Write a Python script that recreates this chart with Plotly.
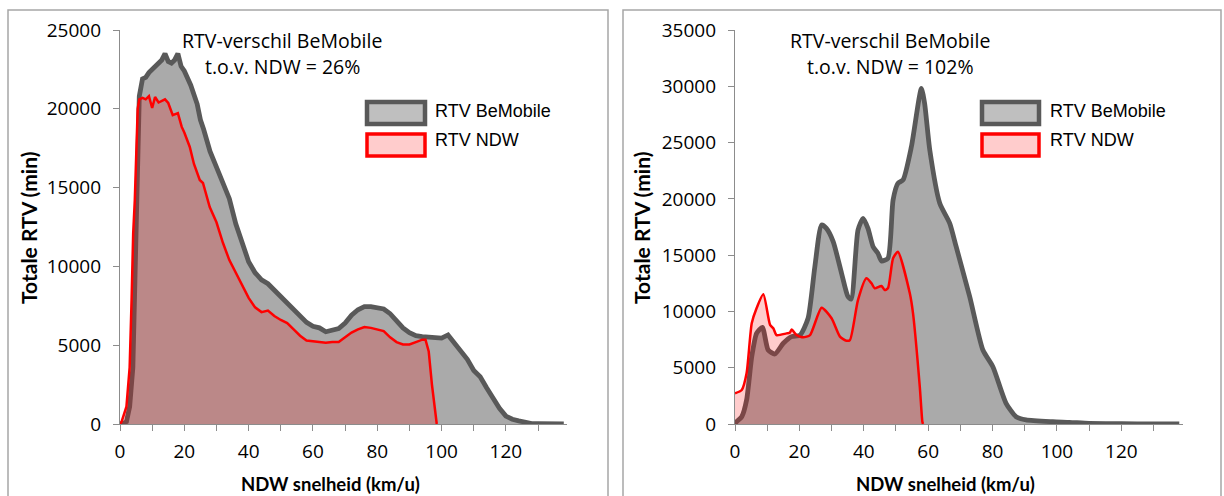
import plotly.graph_objects as go

W, H = 1224, 496

# ---------------- data: left panel ----------------
left_bm_speed = [0, 1, 2, 3, 4, 5, 6, 7, 8, 9, 10, 11, 12, 13, 14, 15, 16, 17, 18, 19, 20,
                 22, 24, 25, 26, 28, 30, 32, 34, 36, 38, 40, 42, 44, 46, 48, 50, 52, 54, 56,
                 58, 60, 62, 64, 66, 68, 70, 72, 74, 76, 78, 80, 82, 84, 86, 88, 90, 92, 94,
                 96, 98, 100, 102, 104, 106, 108, 110, 112, 114, 116, 118, 120, 122, 124,
                 126, 128, 130, 134, 136, 138]
left_bm_rtv = [0, 30, 150, 1100, 3600, 12500, 20800, 21900, 22000, 22300, 22500, 22700,
               23000, 23100, 23500, 23000, 22900, 23100, 23500, 22700, 22400,
               21500, 20300, 19300, 18700, 17300, 16300, 15200, 14300, 12700, 11500, 10300,
               9600, 9150, 8900, 8500, 8050, 7650, 7250, 6800, 6450, 6200, 6100, 5850, 5950,
               6050, 6400, 6900, 7250, 7450, 7450, 7400, 7300, 7000, 6500, 6100, 5800, 5600,
               5550, 5500, 5450, 5450, 5650, 5100, 4600, 4100, 3400, 3000, 2300, 1600, 1000,
               500, 300, 200, 80, 30, 20, 20, 40, 0]

left_ndw_speed = [0, 0.5, 2, 3, 3.6, 4.1, 4.6, 5.5, 6, 7, 8, 9, 10, 10.9, 12, 13, 14, 15,
                  16.4, 18, 19.2, 20, 21.7, 23, 24.8, 25.8, 27.9, 30, 32, 34, 36, 38, 40,
                  42, 44, 46, 48, 50, 52, 54, 56, 58, 60, 62, 64, 66, 68, 70, 72, 74, 76,
                  78, 80, 82, 84, 86, 88, 90, 92, 94, 95, 96, 97, 98, 98.5]
left_ndw_rtv = [0, 150, 1100, 3600, 7870, 12100, 14200, 20000, 20600, 20700, 20600, 20800,
                20050, 20750, 20400, 20500, 20600, 20370, 19600, 19730, 18850, 18500,
                17580, 16500, 15480, 15290, 13770, 12800, 11500, 10400, 9600, 8800, 8000,
                7400, 7100, 7200, 6850, 6600, 6400, 6000, 5600, 5300, 5250, 5200, 5150,
                5200, 5200, 5500, 5800, 6000, 6150, 6100, 6000, 5900, 5500, 5200, 5050,
                5050, 5200, 5350, 5350, 4600, 2500, 600, 0]

# ---------------- data: right panel ----------------
right_bm_speed = [0, 0.5, 2.1, 3.6, 5.2, 6.7, 8.5, 10.3, 12.4, 15, 17.6, 20.2, 22.7, 24.8,
                  26.9, 28.4, 30.5, 33.1, 35.1, 36.1, 38.2, 39.8, 41.3, 42.9, 44.4, 45.5,
                  47.5, 49.1, 50.6, 52.2, 54.8, 57.9, 58.9, 60.5, 63.6, 66.7, 68.7, 72.9,
                  77, 80.1, 84.2, 87.3, 90.4, 98.7, 103.9, 110, 120, 130, 138]
right_bm_rtv = [0, 200, 650, 2130, 5980, 8060, 8590, 6570, 6220, 7170, 7760, 7900, 9390,
                13970, 17680, 17380, 16200, 13390, 11310, 11100, 17230, 18270, 17380,
                15750, 15160, 14480, 14720, 19900, 21380, 21680, 24640, 29820, 28490,
                24340, 19610, 17830, 15750, 11310, 6570, 5090, 1840, 650, 360, 200, 150,
                60, 20, 10, 0]

right_ndw_speed = [0, 2.1, 3.6, 5.2, 6.7, 8.8, 10.9, 11.9, 12.9, 16, 17, 17.6, 19.1, 21.2,
                   23.3, 26.9, 30, 32.6, 34.6, 35.7, 38.2, 40.8, 42.4, 43.4, 45.5, 46.5,
                   47.5, 49.1, 50.6, 54.3, 55.3, 57.4, 58.2, 58.4]
right_ndw_rtv = [2730, 3020, 4500, 8940, 10280, 11520, 8800, 8500, 7900, 8050, 8100, 8400,
                 7900, 7700, 7900, 10330, 9390, 7760, 7400, 7460, 11000, 12940, 12500,
                 12050, 12260, 11900, 12050, 14720, 15300, 11610, 9830, 3310, 200, 0]

x_tickvals = list(range(0, 140, 10))
x_ticktext = [str(v) if v % 20 == 0 else "" for v in x_tickvals]

left_yticks = [0, 5000, 10000, 15000, 20000, 25000]
right_yticks = [0, 5000, 10000, 15000, 20000, 25000, 30000, 35000]

subtitle_left = ["RTV-verschil BeMobile", "t.o.v. NDW = 26%"]
subtitle_right = ["RTV-verschil BeMobile", "t.o.v. NDW = 102%"]
legend_names = ["RTV BeMobile", "RTV NDW"]

# ---------------- styling ----------------
GRAY_FILL = "#aaaaaa"
GRAY_LINE = "#595959"
RED_LINE = "#ff0000"
RED_FILL = "rgba(255,0,0,0.2)"
AXIS_COL = "#8c8c8c"
TICK_FONT = dict(family="Open Sans, Lato, sans-serif", size=19, color="#000000")


def px(x):
    return x / W


def py(y):
    return 1 - y / H


fig = go.Figure()

fig.add_trace(go.Scatter(x=left_bm_speed, y=left_bm_rtv, xaxis="x", yaxis="y",
                         mode="lines", fill="tozeroy", fillcolor=GRAY_FILL,
                         line=dict(color=GRAY_LINE, width=4.8), showlegend=False))
fig.add_trace(go.Scatter(x=left_ndw_speed, y=left_ndw_rtv, xaxis="x", yaxis="y",
                         mode="lines", fill="tozeroy", fillcolor=RED_FILL,
                         line=dict(color=RED_LINE, width=2.5), showlegend=False))
fig.add_trace(go.Scatter(x=right_bm_speed, y=right_bm_rtv, xaxis="x2", yaxis="y2",
                         mode="lines", fill="tozeroy", fillcolor=GRAY_FILL,
                         line=dict(color=GRAY_LINE, width=4.8, shape="spline", smoothing=0.6),
                         showlegend=False))
fig.add_trace(go.Scatter(x=right_ndw_speed, y=right_ndw_rtv, xaxis="x2", yaxis="y2",
                         mode="lines", fill="tozeroy", fillcolor=RED_FILL,
                         line=dict(color=RED_LINE, width=2.5, shape="spline", smoothing=0.6),
                         showlegend=False))

ydom = [py(424), py(30)]
common_x = dict(range=[0, 139], tickvals=x_tickvals, ticktext=x_ticktext,
                showline=True, linecolor=AXIS_COL, linewidth=1.3, ticks="outside",
                ticklen=6, tickcolor=AXIS_COL, tickwidth=1.3, showgrid=False,
                zeroline=False, tickfont=TICK_FONT, fixedrange=True, automargin=False,
                ticklabelstandoff=4)
common_y = dict(showline=True, linecolor=AXIS_COL, linewidth=1.3, ticks="outside",
                ticklen=6, tickcolor=AXIS_COL, tickwidth=1.3, showgrid=False,
                zeroline=False, tickfont=TICK_FONT, fixedrange=True, domain=ydom,
                automargin=False, ticklabelstandoff=8)

fig.update_layout(
    width=W, height=H, margin=dict(l=0, r=0, t=0, b=0, pad=0, autoexpand=False),
    paper_bgcolor="white", plot_bgcolor="rgba(0,0,0,0)",
    xaxis=dict(common_x, domain=[px(120), px(567)], anchor="y"),
    yaxis=dict(common_y, range=[0, 25000], tickvals=left_yticks,
               ticktext=[str(v) for v in left_yticks], anchor="x"),
    xaxis2=dict(common_x, domain=[px(735), px(1182.5)], anchor="y2"),
    yaxis2=dict(common_y, range=[0, 35000], tickvals=right_yticks,
                ticktext=[str(v) for v in right_yticks], anchor="x2"),
    showlegend=False,
)

shapes = []
annotations = []

# panel borders
for x0, x1 in [(8, 608), (623, 1221)]:
    shapes.append(dict(type="rect", xref="paper", yref="paper",
                       x0=px(x0), x1=px(x1), y0=py(H + 20), y1=py(10),
                       line=dict(color="#a6a6a6", width=1.5), fillcolor="rgba(0,0,0,0)",
                       layer="below"))

TITLE_FONT = dict(family="Open Sans, Lato, sans-serif", size=19.5, color="#000000")
LEG_FONT = dict(family="Liberation Sans, Arial, sans-serif", size=18, color="#000000")
AX_TITLE_FONT = dict(family="Lato, Open Sans, sans-serif", size=19, color="#000000")

panels = [
    dict(cx=282, sub=subtitle_left, leg_x0=367, leg_x1=425, text_x=433,
         ytitle_x=28, xtitle_x=330),
    dict(cx=890, sub=subtitle_right, leg_x0=982, leg_x1=1039, text_x=1048,
         ytitle_x=641, xtitle_x=945),
]

for p in panels:
    annotations.append(dict(xref="paper", yref="paper", x=px(p["cx"]), y=py(40),
                            text=p["sub"][0], showarrow=False, font=TITLE_FONT,
                            xanchor="center", yanchor="middle"))
    annotations.append(dict(xref="paper", yref="paper", x=px(p["cx"]), y=py(67),
                            text=p["sub"][1], showarrow=False, font=TITLE_FONT,
                            xanchor="center", yanchor="middle"))
    # legend boxes
    shapes.append(dict(type="rect", xref="paper", yref="paper",
                       x0=px(p["leg_x0"]), x1=px(p["leg_x1"]), y0=py(124), y1=py(102),
                       line=dict(color=GRAY_LINE, width=4.5), fillcolor="#bfbfbf"))
    shapes.append(dict(type="rect", xref="paper", yref="paper",
                       x0=px(p["leg_x0"]), x1=px(p["leg_x1"]), y0=py(156), y1=py(134),
                       line=dict(color=RED_LINE, width=3.5), fillcolor="#ffcccc"))
    annotations.append(dict(xref="paper", yref="paper", x=px(p["text_x"]), y=py(111),
                            text=legend_names[0], showarrow=False, font=LEG_FONT,
                            xanchor="left", yanchor="middle"))
    annotations.append(dict(xref="paper", yref="paper", x=px(p["text_x"]), y=py(140),
                            text=legend_names[1], showarrow=False, font=LEG_FONT,
                            xanchor="left", yanchor="middle"))
    # axis titles
    annotations.append(dict(xref="paper", yref="paper", x=px(p["ytitle_x"]), y=py(228),
                            text="<b>Totale RTV (min)</b>", showarrow=False,
                            font=dict(AX_TITLE_FONT, size=21), textangle=-90,
                            xanchor="center", yanchor="middle"))
    annotations.append(dict(xref="paper", yref="paper", x=px(p["xtitle_x"]), y=py(484),
                            text="<b>NDW snelheid (km/u)</b>", showarrow=False,
                            font=dict(AX_TITLE_FONT, size=18.5), xanchor="center",
                            yanchor="middle"))

fig.update_layout(shapes=shapes, annotations=annotations)

fig.write_html("out.html")
